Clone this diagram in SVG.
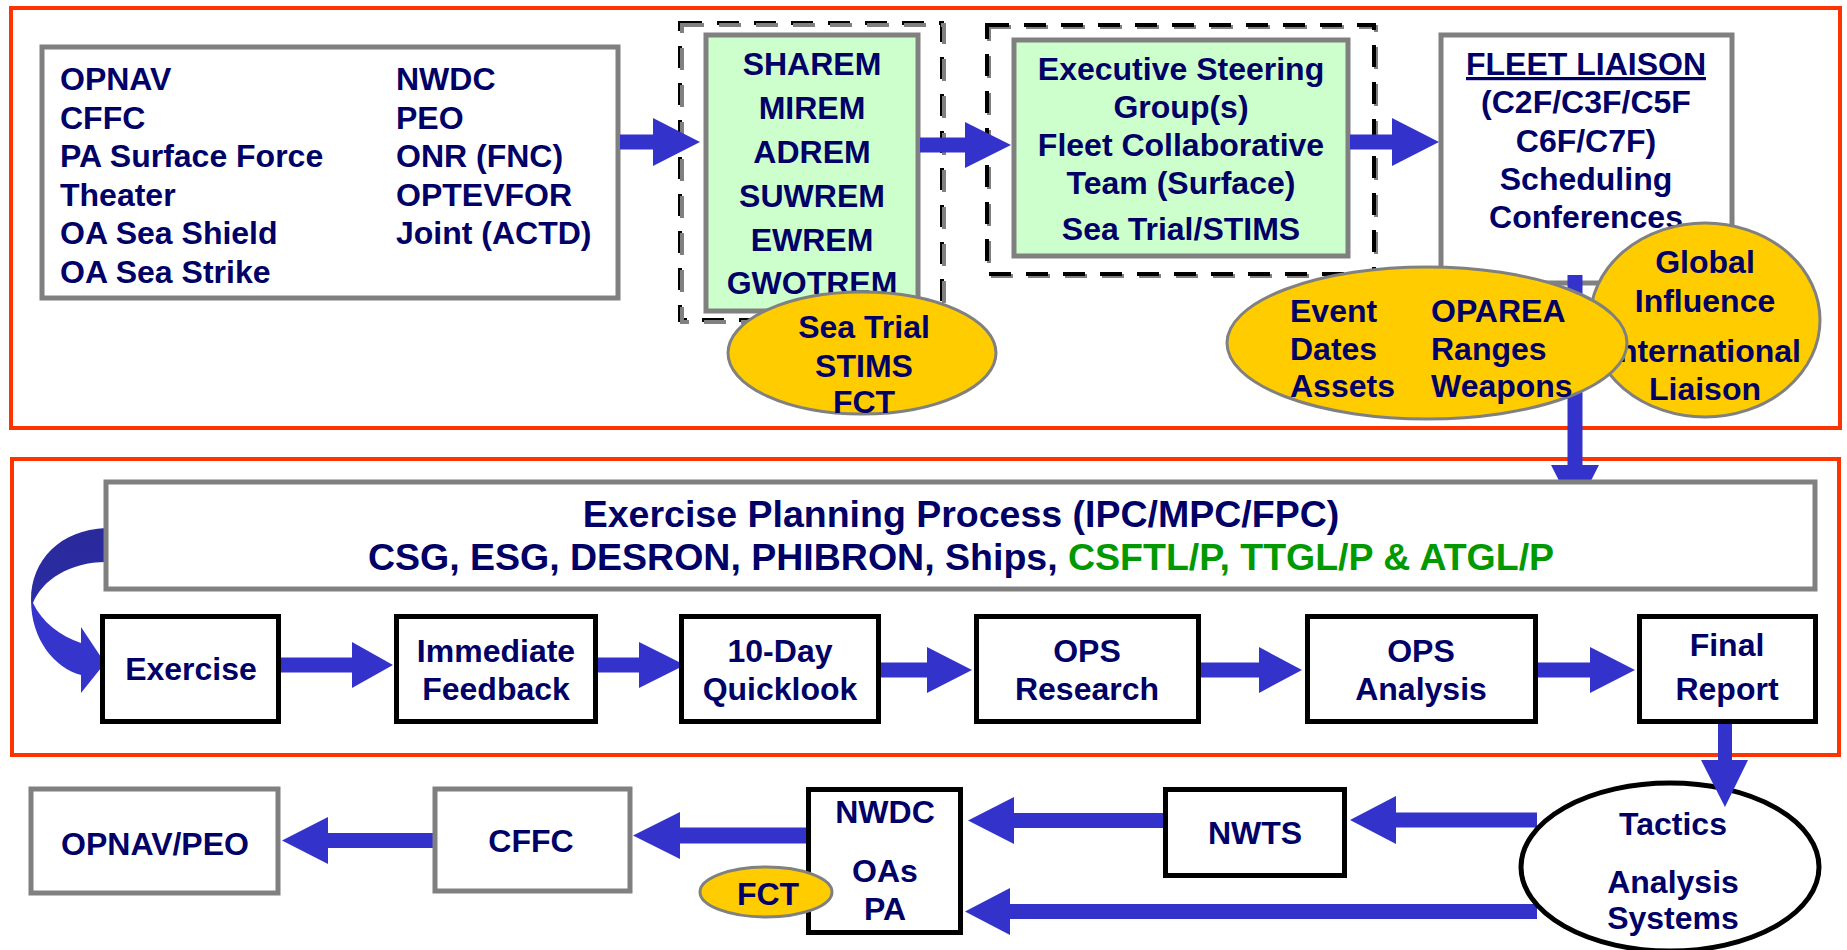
<svg xmlns="http://www.w3.org/2000/svg" width="1847" height="950" viewBox="0 0 1847 950">
<style>
text{font-family:"Liberation Sans",Arial,sans-serif;font-weight:bold;font-size:32px;fill:#000066}
.c{text-anchor:middle}
.g{fill:#009900}
.big{font-size:37.5px}
.red{fill:none;stroke:#FF3300;stroke-width:4}
.gbox{fill:#FFFFFF;stroke:#808080;stroke-width:5}
.green{fill:#CCFFCC;stroke:#808080;stroke-width:5}
.bbox{fill:#FFFFFF;stroke:#000000;stroke-width:5}
.ell{fill:#FFCC00;stroke:#808080;stroke-width:3}
.dk{fill:none;stroke:#000000;stroke-width:4;stroke-dasharray:22 15}
.dg{fill:none;stroke:#808080;stroke-width:4;stroke-dasharray:22 15}
.arr{fill:#3333CC}
</style>
<defs>
<linearGradient id="curve" x1="0" y1="528" x2="0" y2="693" gradientUnits="userSpaceOnUse">
<stop offset="0" stop-color="#2A2A9C"/>
<stop offset="0.42" stop-color="#2C2CA4"/>
<stop offset="0.47" stop-color="#3535CC"/>
<stop offset="1" stop-color="#3535CC"/>
</linearGradient>
</defs>

<g id="frames">
<rect class="red" x="11" y="8" width="1829" height="420"/>
<rect class="red" x="12" y="459" width="1827" height="296"/>
</g>

<g id="sources">
<rect class="gbox" x="42" y="47" width="576" height="251"/>
<text x="60" y="90">OPNAV</text>
<text x="60" y="128.5">CFFC</text>
<text x="60" y="167">PA Surface Force</text>
<text x="60" y="205.5">Theater</text>
<text x="60" y="244">OA Sea Shield</text>
<text x="60" y="282.5">OA Sea Strike</text>
<text x="396" y="90">NWDC</text>
<text x="396" y="128.5">PEO</text>
<text x="396" y="167">ONR (FNC)</text>
<text x="396" y="205.5">OPTEVFOR</text>
<text x="396" y="244">Joint (ACTD)</text>
</g>

<g id="rem-group">
<rect class="dk" x="680" y="23" width="262" height="297"/>
<rect class="dg" x="682" y="25" width="262" height="297"/>
<rect class="green" x="706" y="35" width="212" height="276"/>
<text class="c" x="812" y="75">SHAREM</text>
<text class="c" x="812" y="119">MIREM</text>
<text class="c" x="812" y="163">ADREM</text>
<text class="c" x="812" y="207">SUWREM</text>
<text class="c" x="812" y="251">EWREM</text>
<text class="c" x="812" y="294">GWOTREM</text>
</g>

<g id="sea-trial">
<ellipse class="ell" cx="862" cy="353" rx="134" ry="61"/>
<text class="c" x="864" y="338">Sea Trial</text>
<text class="c" x="864" y="377">STIMS</text>
<text class="c" x="864" y="413">FCT</text>
</g>

<g id="esg-group">
<rect class="dg" x="989" y="27" width="387" height="249"/>
<rect class="dk" x="987" y="25" width="387" height="249"/>
<rect class="green" x="1014" y="40" width="334" height="216"/>
<text class="c" x="1181" y="80">Executive Steering</text>
<text class="c" x="1181" y="118">Group(s)</text>
<text class="c" x="1181" y="156">Fleet Collaborative</text>
<text class="c" x="1181" y="194">Team (Surface)</text>
<text class="c" x="1181" y="240">Sea Trial/STIMS</text>
</g>

<g id="fleet-liaison">
<rect class="gbox" x="1441" y="35" width="291" height="248"/>
<text class="c" x="1586" y="75" text-decoration="underline">FLEET LIAISON</text>
<text class="c" x="1586" y="113">(C2F/C3F/C5F</text>
<text class="c" x="1586" y="152">C6F/C7F)</text>
<text class="c" x="1586" y="190">Scheduling</text>
<text class="c" x="1586" y="228">Conferences</text>
</g>

<g id="connectors">
<polygon class="arr" points="620,134.5 653,134.5 653,118 700,142 653,166 653,149.5 620,149.5"/>
<polygon class="arr" points="920,137.5 965,137.5 965,122 1011,145 965,168 965,152.5 920,152.5"/>
<polygon class="arr" points="1350,134.5 1392,134.5 1392,118 1439,142 1392,166 1392,149.5 1350,149.5"/>
<polygon class="arr" points="1567.5,275 1582.5,275 1582.5,465 1599,465 1575,512 1551,465 1567.5,465"/>
<path fill="url(#curve)" d="M106,528 C60,530 31,560 31,600 C31,640 55,668 81,675 L81,693 L105,663 L81,627 L81,643 C60,636 42,622 33,603 C42,580 70,562 106,562 Z"/>
<polygon class="arr" points="281,657.5 352,657.5 352,642 393,665 352,688 352,672.5 281,672.5"/>
<polygon class="arr" points="598,657.5 639,657.5 639,642 685,665 639,688 639,672.5 598,672.5"/>
<polygon class="arr" points="881,662.5 927,662.5 927,647 972,670 927,693 927,677.5 881,677.5"/>
<polygon class="arr" points="1201,662.5 1259,662.5 1259,647 1302,670 1259,693 1259,677.5 1201,677.5"/>
<polygon class="arr" points="1538,662.5 1590,662.5 1590,647 1635,670 1590,693 1590,677.5 1538,677.5"/>
<polygon class="arr" points="1537,812.5 1396,812.5 1396,796 1350,820 1396,844 1396,827.5 1537,827.5"/>
<polygon class="arr" points="1163,813 1014,813 1014,797 968,820.5 1014,844 1014,828 1163,828"/>
<polygon class="arr" points="1537,904 1010,904 1010,888 965,911.5 1010,935 1010,919 1537,919"/>
<polygon class="arr" points="806,827.5 680,827.5 680,812 633,835.5 680,859 680,843.5 806,843.5"/>
<polygon class="arr" points="433,833 328,833 328,817 282,840.5 328,864 328,848 433,848"/>
</g>

<g id="global-influence">
<ellipse class="ell" cx="1705" cy="320" rx="115" ry="97"/>
<text class="c" x="1705" y="273">Global</text>
<text class="c" x="1705" y="312">Influence</text>
<text class="c" x="1705" y="362">International</text>
<text class="c" x="1705" y="400">Liaison</text>
</g>

<g id="event-oparea">
<ellipse class="ell" cx="1427" cy="343" rx="200" ry="76"/>
<text x="1290" y="322">Event</text>
<text x="1290" y="360">Dates</text>
<text x="1290" y="397">Assets</text>
<text x="1431" y="322">OPAREA</text>
<text x="1431" y="360">Ranges</text>
<text x="1431" y="397">Weapons</text>
</g>

<g id="planning">
<rect class="gbox" x="106" y="482" width="1709" height="107"/>
<text class="c big" x="961" y="527">Exercise Planning Process (IPC/MPC/FPC)</text>
<text class="c big" x="961" y="570">CSG, ESG, DESRON, PHIBRON, Ships, <tspan class="g">CSFTL/P, TTGL/P &amp; ATGL/P</tspan></text>
</g>

<g id="exercise">
<rect class="bbox" x="102.5" y="616.5" width="176" height="105"/>
<text class="c" x="191" y="680">Exercise</text>
</g>
<g id="immediate-feedback">
<rect class="bbox" x="396.5" y="616.5" width="199" height="105"/>
<text class="c" x="496" y="662">Immediate</text>
<text class="c" x="496" y="700">Feedback</text>
</g>
<g id="quicklook">
<rect class="bbox" x="681.5" y="616.5" width="197" height="105"/>
<text class="c" x="780" y="662">10-Day</text>
<text class="c" x="780" y="700">Quicklook</text>
</g>
<g id="ops-research">
<rect class="bbox" x="976.5" y="616.5" width="222" height="105"/>
<text class="c" x="1087" y="662">OPS</text>
<text class="c" x="1087" y="700">Research</text>
</g>
<g id="ops-analysis">
<rect class="bbox" x="1307.5" y="616.5" width="228" height="105"/>
<text class="c" x="1421" y="662">OPS</text>
<text class="c" x="1421" y="700">Analysis</text>
</g>
<g id="final-report">
<rect class="bbox" x="1639.5" y="616.5" width="176" height="105"/>
<text class="c" x="1727" y="656">Final</text>
<text class="c" x="1727" y="700">Report</text>
</g>

<g id="tactics">
<ellipse cx="1670" cy="867" rx="149" ry="84" fill="#FFFFFF" stroke="#000000" stroke-width="5"/>
<text class="c" x="1673" y="835">Tactics</text>
<text class="c" x="1673" y="893">Analysis</text>
<text class="c" x="1673" y="929">Systems</text>
</g>
<g id="final-down-arrow">
<polygon class="arr" points="1718,724 1732,724 1732,760 1748,760 1725,807 1701,760 1718,760"/>
</g>

<g id="nwts">
<rect class="bbox" x="1165.5" y="789.5" width="179" height="86"/>
<text class="c" x="1255" y="844">NWTS</text>
</g>
<g id="nwdc">
<rect class="bbox" x="808.5" y="789.5" width="152" height="143"/>
<text class="c" x="885" y="823">NWDC</text>
<text class="c" x="885" y="882">OAs</text>
<text class="c" x="885" y="920">PA</text>
</g>
<g id="fct">
<ellipse class="ell" cx="766" cy="892" rx="66" ry="25"/>
<text class="c" x="768" y="905">FCT</text>
</g>
<g id="cffc">
<rect class="gbox" x="435" y="789" width="195" height="102"/>
<text class="c" x="531" y="852">CFFC</text>
</g>
<g id="opnav-peo">
<rect class="gbox" x="31" y="789" width="247" height="104"/>
<text class="c" x="155" y="855">OPNAV/PEO</text>
</g>
</svg>
